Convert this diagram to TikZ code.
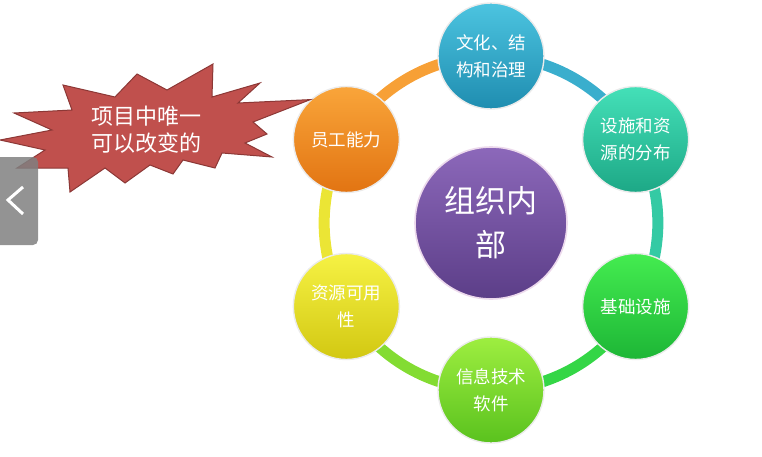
\documentclass[tikz,border=0pt]{standalone}
\usepackage{fontspec}
\newfontfamily\cjk{Noto Sans CJK SC}
\usepackage{tikz}
\usetikzlibrary{positioning, calc, backgrounds}
\usepackage{xcolor}
\definecolor{staffT}{HTML}{F9A53A}\definecolor{staffB}{HTML}{E27412}
\definecolor{cultT}{HTML}{4CC4E0}\definecolor{cultB}{HTML}{1F8DB0}
\definecolor{layT}{HTML}{44E0B8}\definecolor{layB}{HTML}{1DA886}
\definecolor{infT}{HTML}{44EC50}\definecolor{infB}{HTML}{1DB636}
\definecolor{softT}{HTML}{9EEE40}\definecolor{softB}{HTML}{5AC21E}
\definecolor{availT}{HTML}{F6F244}\definecolor{availB}{HTML}{D2C812}
\definecolor{hubT}{HTML}{8C68BA}\definecolor{hubB}{HTML}{5C3E88}
\definecolor{starRed}{HTML}{C0504D}\definecolor{starEdge}{HTML}{8C3836}
\tikzstyle{bubble} = [circle, minimum size=106pt, inner sep=0pt, align=center, text=white, draw=white!92!black, line width=1.4pt, font=\cjk\fontsize{17.5}{27}\selectfont]
\tikzstyle{hub} = [circle, minimum size=152pt, inner sep=0pt, align=center, text=white, draw=white!85!violet, line width=1.6pt, top color=hubT, bottom color=hubB, font=\cjk\fontsize{31}{44}\selectfont]
\tikzstyle{ring} = [line width=11pt, looseness=0.91]

\begin{document}
\begin{tikzpicture}[x=1pt, y=1pt]
    \useasboundingbox (0,0) rectangle (762,456);
    \node (hub) [hub] at (491,233) {组织内\\部};
    \node (culture) [bubble, top color=cultT, bottom color=cultB] at ($(hub)+(90:167)$) {文化、结\\构和治理};
    \node (layout) [bubble, top color=layT, bottom color=layB] at ($(hub)+(30:167)$) {设施和资\\源的分布};
    \node (infra) [bubble, top color=infT, bottom color=infB] at ($(hub)+(-30:167)$) {基础设施};
    \node (itsoft) [bubble, top color=softT, bottom color=softB] at ($(hub)+(-90:167)$) {信息技术\\软件};
    \node (avail) [bubble, top color=availT, bottom color=availB] at ($(hub)+(-150:167)$) {资源可用\\性};
    \node (staff) [bubble, top color=staffT, bottom color=staffB] at ($(hub)+(150:167)$) {员工能力};

    % ring behind the bubbles
    \begin{scope}[on background layer]
    \foreach \a/\b/\c in {staff/culture/staffT!90!staffB, culture/layout/cultT!60!cultB, layout/infra/layT!60!layB, infra/itsoft/infT!60!infB, itsoft/avail/softT!60!softB, avail/staff/availT!70!availB} {
        \draw [ring, \c] (\a.center) to[bend left=30] (\b.center);
    }
    \end{scope}

    % callout star
    \begin{scope}[shift={(0,456)}, yscale=-1]
    \filldraw [fill=starRed, draw=starEdge, line width=1pt, line join=miter]
        (staff.132) -- (253,122) -- (267,134) -- (245,143) -- (272,157) -- (222,153)
        -- (215,168) -- (183,160) -- (173,174) -- (150,165) -- (125,183) -- (105,168)
        -- (70,192) -- (68,168) -- (17,168) -- (45,150) -- (0,140) -- (52,130)
        -- (14,113) -- (72,110) -- (63,85) -- (115,97) -- (137,74) -- (167,90)
        -- (213,64) -- (212,97) -- (260,83) -- (238,103) -- cycle;
    \end{scope}
    \node (note) [align=center, text=white, font=\cjk\fontsize{22}{27}\selectfont] at (146,326) {项目中唯一\\可以改变的};

    % side tab
    \begin{scope}
    \clip (0,0) rectangle (762,456);
    \fill [black!50, opacity=0.85, rounded corners=5pt] (-8,211) rectangle (38,299);
    \end{scope}
    \coordinate (tab) at (16,256);
    \draw [white, line width=3pt] ($(tab)+(7,13)$) -- ($(tab)+(-8,0)$) -- ($(tab)+(7,-14)$);
\end{tikzpicture}
\end{document}
